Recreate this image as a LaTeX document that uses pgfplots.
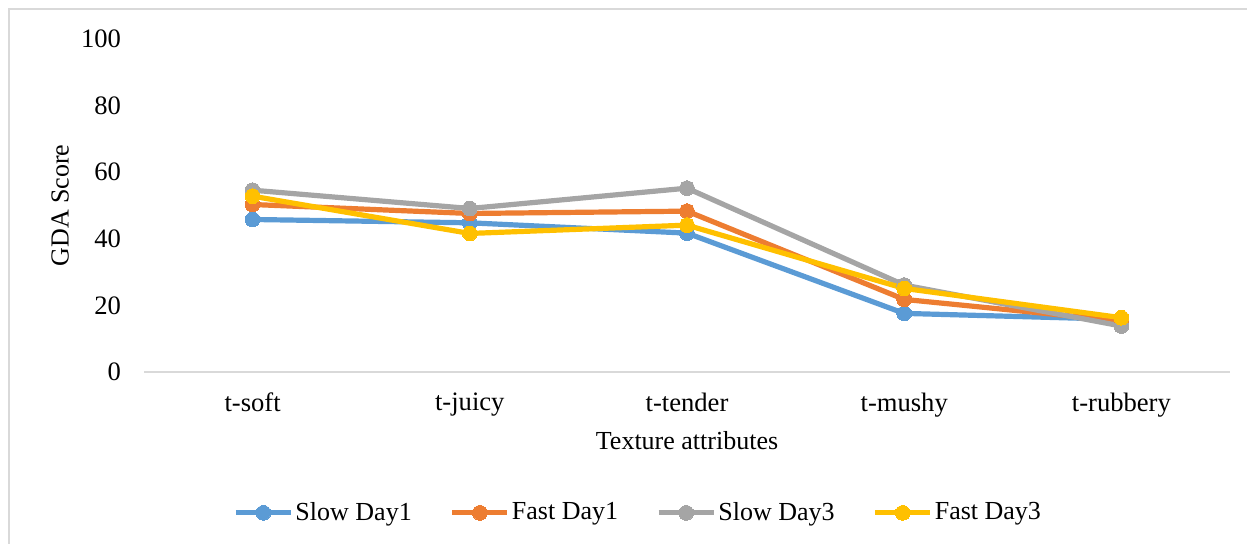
\documentclass[border=0pt]{standalone}
\usepackage{fontspec}
\setmainfont{Liberation Serif}
\usepackage{pgfplots}
\pgfplotsset{compat=1.18}
\definecolor{cBlue}{HTML}{5B9BD5}
\definecolor{cOrange}{HTML}{ED7D31}
\definecolor{cGray}{HTML}{A5A5A5}
\definecolor{cYellow}{HTML}{FFC000}
\definecolor{cFrame}{HTML}{D9D9D9}
\begin{document}
\begin{tikzpicture}
\useasboundingbox (0,0) rectangle (623.5pt,272pt);
\draw[cFrame, line width=0.6pt] (4.5pt,0) -- (4.5pt,267.5pt) -- (623.5pt,267.5pt);
\begin{axis}[
  at={(72pt,86pt)}, anchor=south west,
  scale only axis, width=543pt, height=166.5pt,
  xmin=-0.5, xmax=4.5, ymin=0, ymax=100,
  xtick={0,1,2,3,4},
  xticklabels={t-soft,t-juicy,t-tender,t-mushy,t-rubbery},
  ytick={0,20,40,60,80,100},
  axis x line*=bottom, axis y line*=left,
  x axis line style={draw=cFrame, line width=0.7pt, -},
  y axis line style={draw=none},
  major tick length=0pt,
  /pgf/number format/assume math mode=true,
  tick label style={font=\fontsize{13.3pt}{15pt}\selectfont},
  yticklabel style={anchor=east, xshift=-8pt},
  xticklabel style={anchor=north, yshift=-7pt},
  label style={font=\fontsize{13pt}{15pt}\selectfont},
  xlabel={Texture attributes},
  ylabel={GDA Score},
  xlabel style={at={(axis description cs:0.5,-0.207)}, anchor=center},
  ylabel style={at={(axis description cs:-0.0773,0.5)}, anchor=center, rotate=0},
  legend columns=4,
  legend style={draw=none, fill=none, font=\fontsize{13pt}{15pt}\selectfont,
    at={(axis description cs:0.455,-0.423)}, anchor=center,
    /tikz/every even column/.append style={column sep=18pt},
    nodes={inner xsep=1pt},
    inner sep=0pt},
  legend image code/.code={\draw[mark repeat=2,mark phase=2,#1] plot coordinates {(0pt,0pt)(13.75pt,0pt)(27.5pt,0pt)};},
  every axis plot/.append style={line width=2.6pt, mark=*, mark size=3.7pt},
  clip=false,
]
\addplot[color=cBlue, mark options={fill=cBlue, draw=cBlue, line width=0pt}] coordinates {(0,45.8) (1,44.8) (2,41.7) (3,17.6) (4,15.8)};
\addlegendentry{Slow Day1}
\addplot[color=cOrange, mark options={fill=cOrange, draw=cOrange, line width=0pt}] coordinates {(0,50.3) (1,47.6) (2,48.3) (3,21.8) (4,15.3)};
\addlegendentry{Fast Day1}
\addplot[color=cGray, mark options={fill=cGray, draw=cGray, line width=0pt}] coordinates {(0,54.6) (1,49.1) (2,55.2) (3,26.1) (4,13.8)};
\addlegendentry{Slow Day3}
\addplot[color=cYellow, mark options={fill=cYellow, draw=cYellow, line width=0pt}] coordinates {(0,52.8) (1,41.6) (2,44.1) (3,25.1) (4,16.3)};
\addlegendentry{Fast Day3}
\end{axis}
\end{tikzpicture}
\end{document}
